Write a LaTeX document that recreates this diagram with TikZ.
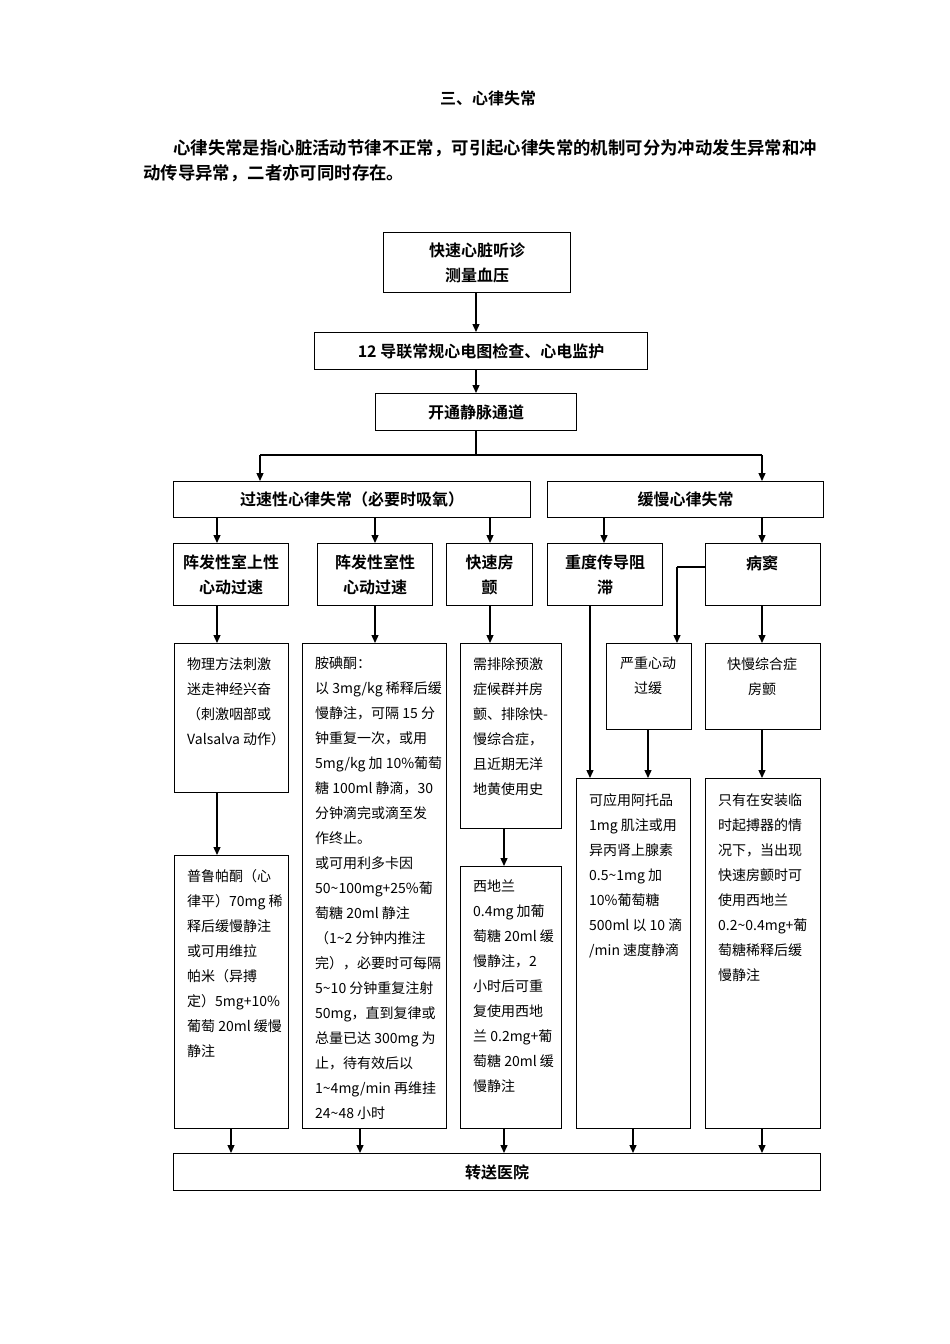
\documentclass[tikz,border=0pt]{standalone}
\usepackage{fontspec}
\setmainfont{Noto Sans CJK SC}[BoldFont={Noto Sans CJK SC Bold}]
\usetikzlibrary{arrows.meta}
\begin{document}
\begin{tikzpicture}[x=1pt,y=-1pt,
  box/.style={draw,line width=1.1pt,anchor=north west,inner sep=0pt},
  arr/.style={line width=1.3pt,-{Triangle[length=8pt,width=7pt]}},
  ln/.style={line width=1.1pt},
  hd/.style={font=\fontsize{16}{25}\selectfont\bfseries,align=center},
  sm/.style={font=\fontsize{14}{25}\selectfont,align=left,anchor=north west,inner sep=0pt}]
\useasboundingbox (0,0) rectangle (950,1344);
\node[font=\fontsize{16}{18}\selectfont\bfseries] (title) at (488,98) {三、心律失常};
\node[anchor=west,font=\fontsize{17.4}{18}\selectfont\bfseries,inner sep=0pt] (p1) at (173,148) {心律失常是指心脏活动节律不正常，可引起心律失常的机制可分为冲动发生异常和冲};
\node[anchor=west,font=\fontsize{17.4}{18}\selectfont\bfseries,inner sep=0pt] (p2) at (143,173) {动传导异常，二者亦可同时存在。};
% boxes
\node[box,minimum width=187pt,minimum height=60pt] (A) at (383,232) {};
\node[hd] (At) at (A.center) {快速心脏听诊\\测量血压};
\node[box,minimum width=333pt,minimum height=37pt] (B) at (314,332) {};
\node[hd] (Bt) at (B.center) {12 导联常规心电图检查、心电监护};
\node[box,minimum width=201pt,minimum height=37pt] (C) at (375,393) {};
\node[hd] (Ct) at (C.center) {开通静脉通道};
\node[box,minimum width=357pt,minimum height=36pt] (D) at (173,481) {};
\node[hd] (Dt) at (D.center) {过速性心律失常（必要时吸氧）};
\node[box,minimum width=276pt,minimum height=36pt] (E) at (547,481) {};
\node[hd] (Et) at (E.center) {缓慢心律失常};
\node[box,minimum width=115pt,minimum height=62pt] (F1) at (173,543) {};
\node[hd] (F1t) at (F1.center) {阵发性室上性\\心动过速};
\node[box,minimum width=115pt,minimum height=62pt] (F2) at (317,543) {};
\node[hd] (F2t) at (F2.center) {阵发性室性\\心动过速};
\node[box,minimum width=86pt,minimum height=62pt] (F3) at (446,543) {};
\node[hd] (F3t) at (F3.center) {快速房\\颤};
\node[box,minimum width=115pt,minimum height=62pt] (G1) at (547,543) {};
\node[hd] (G1t) at (G1.center) {重度传导阻\\滞};
\node[box,minimum width=115pt,minimum height=62pt] (G2) at (705,543) {};
\node[hd,anchor=center] (G2t) at (762,563) {病窦};
\node[box,minimum width=114pt,minimum height=149pt] (H1) at (174,643) {};
\node[sm] (H1t) at (187,657) {物理方法刺激\\迷走神经兴奋\\（刺激咽部或\\Valsalva 动作）};
\node[box,minimum width=144pt,minimum height=485pt] (H2) at (302,643) {};
\node[sm] (H2t) at (315,657) {胺碘酮：\\以 3mg/kg 稀释后缓\\慢静注，可隔 15 分\\钟重复一次，或用\\5mg/kg 加 10\%葡萄\\糖 100ml 静滴，30\\分钟滴完或滴至发\\作终止。\\或可用利多卡因\\50\textasciitilde100mg+25\%葡\\萄糖 20ml 静注\\（1\textasciitilde2 分钟内推注\\完），必要时可每隔\\5\textasciitilde10 分钟重复注射\\50mg，直到复律或\\总量已达 300mg 为\\止，待有效后以\\1\textasciitilde4mg/min 再维挂\\24\textasciitilde48 小时};
\node[box,minimum width=101pt,minimum height=185pt] (H3) at (460,643) {};
\node[sm] (H3t) at (473,657) {需排除预激\\症候群并房\\颤、排除快-\\慢综合症，\\且近期无洋\\地黄使用史};
\node[box,minimum width=114pt,minimum height=273pt] (I1) at (174,855) {};
\node[sm] (I1t) at (187,869) {普鲁帕酮（心\\律平）70mg 稀\\释后缓慢静注\\或可用维拉\\帕米（异搏\\定）5mg+10\%\\葡萄 20ml 缓慢\\静注};
\node[box,minimum width=101pt,minimum height=262pt] (I3) at (460,866) {};
\node[sm] (I3t) at (473,880) {西地兰\\0.4mg 加葡\\萄糖 20ml 缓\\慢静注，2\\小时后可重\\复使用西地\\兰 0.2mg+葡\\萄糖 20ml 缓\\慢静注};
\node[box,minimum width=85pt,minimum height=86pt] (J1) at (606,643) {};
\node[sm,align=center,anchor=north] (J1t) at (648,657) {严重心动\\过缓};
\node[box,minimum width=115pt,minimum height=86pt] (J2) at (705,643) {};
\node[sm,align=center,anchor=north] (J2t) at (762,657) {快慢综合症\\房颤};
\node[box,minimum width=114pt,minimum height=350pt] (K1) at (576,778) {};
\node[sm] (K1t) at (589,793) {可应用阿托品\\1mg 肌注或用\\异丙肾上腺素\\0.5\textasciitilde1mg 加\\10\%葡萄糖\\500ml 以 10 滴\\/min 速度静滴};
\node[box,minimum width=115pt,minimum height=350pt] (K2) at (705,778) {};
\node[sm] (K2t) at (718,793) {只有在安装临\\时起搏器的情\\况下，当出现\\快速房颤时可\\使用西地兰\\0.2\textasciitilde0.4mg+葡\\萄糖稀释后缓\\慢静注};
\node[box,minimum width=647pt,minimum height=37pt] (L) at (173,1153) {};
\node[hd] (Lt) at (L.center) {转送医院};
% connectors
\draw[arr] (476,292) -- (476,332);
\draw[arr] (476,369) -- (476,393);
\draw[ln] (476,430) -- (476,455);
\draw[ln] (260,455) -- (762,455);
\draw[arr] (260,455) -- (260,481);
\draw[arr] (762,455) -- (762,481);
\draw[arr] (217,517) -- (217,543);
\draw[arr] (375,517) -- (375,543);
\draw[arr] (490,517) -- (490,543);
\draw[arr] (604,517) -- (604,543);
\draw[arr] (762,517) -- (762,543);
\draw[arr] (217,605) -- (217,643);
\draw[arr] (375,605) -- (375,643);
\draw[arr] (490,605) -- (490,643);
\draw[arr] (217,792) -- (217,855);
\draw[arr] (504,828) -- (504,866);
\draw[arr] (590,605) -- (590,778);
\draw[ln] (705,567) -- (677,567);
\draw[arr] (677,567) -- (677,643);
\draw[arr] (762,605) -- (762,643);
\draw[arr] (648,729) -- (648,778);
\draw[arr] (762,729) -- (762,778);
\foreach \x in {231,360,504,633,762} \draw[arr] (\x,1128) -- (\x,1153);
\end{tikzpicture}
\end{document}
